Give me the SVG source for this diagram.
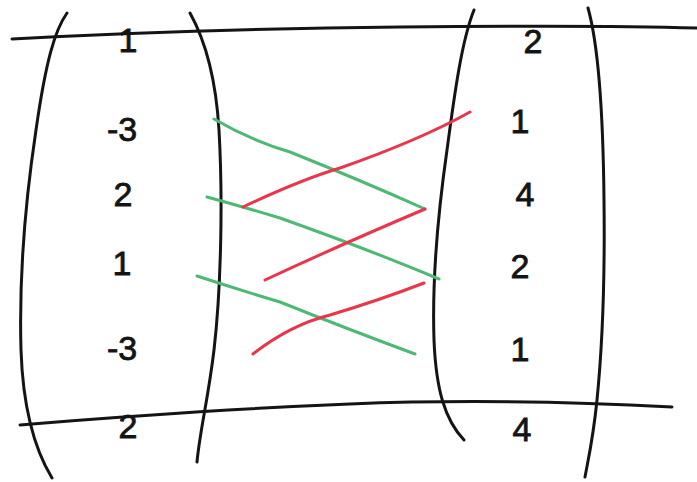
<svg xmlns="http://www.w3.org/2000/svg" width="697" height="482" viewBox="0 0 697 482">
<style>
.ink{fill:none;stroke:#141414;stroke-width:3;stroke-linecap:round;stroke-linejoin:round}
.g{fill:none;stroke:#4fb874;stroke-width:3;stroke-linecap:round}
.r{fill:none;stroke:#e8364c;stroke-width:3;stroke-linecap:round}
.n{font-family:"Liberation Sans","DejaVu Sans",sans-serif;font-size:34px;fill:#141414;stroke:#141414;stroke-width:0.8;text-anchor:middle}
</style>
<rect width="697" height="482" fill="#ffffff"/>
<g id="rules">
<path class="ink" d="M12,39 Q200,29 400,27 T697,28"/>
<path class="ink" d="M20,425 Q200,410 350,404 T672,407"/>
</g>
<g id="left-matrix">
<path class="ink" d="M67,13 C55,30 46,60 36,130 C24,210 19,280 21,350 C23,410 35,450 52,478"/>
<path class="ink" d="M190,13 C205,40 216,80 219,130 C223,200 221,290 214,350 C208,400 200,430 197,462"/>
<text class="n" x="128" y="52">1</text>
<text class="n" x="122" y="141">-3</text>
<text class="n" x="123" y="206">2</text>
<text class="n" x="122" y="275">1</text>
<text class="n" x="122" y="360">-3</text>
<text class="n" x="128" y="438">2</text>
</g>
<g id="right-matrix">
<path class="ink" d="M474,10 C462,40 455,90 447,150 C437,220 432,280 434,340 C436,390 445,420 464,440"/>
<path class="ink" d="M588,8 C597,40 603,100 604,200 C605,280 602,350 597,400 C593,440 588,460 585,477"/>
<text class="n" x="533" y="53">2</text>
<text class="n" x="520" y="133">1</text>
<text class="n" x="525" y="206">4</text>
<text class="n" x="520" y="278">2</text>
<text class="n" x="520" y="361">1</text>
<text class="n" x="522" y="441">4</text>
</g>
<g id="connectors">
<path class="g" d="M214,119 Q250,140 290,152 Q360,180 425,209"/>
<path class="g" d="M207,197 Q240,206 280,218 Q370,250 439,279"/>
<path class="g" d="M197,276 Q240,290 280,302 Q350,330 415,354"/>
<path class="r" d="M243,207 Q300,180 340,168 Q420,140 470,112"/>
<path class="r" d="M265,280 Q340,245 425,209"/>
<path class="r" d="M253,354 Q290,325 330,315 Q380,300 424,283"/>
</g>
</svg>
